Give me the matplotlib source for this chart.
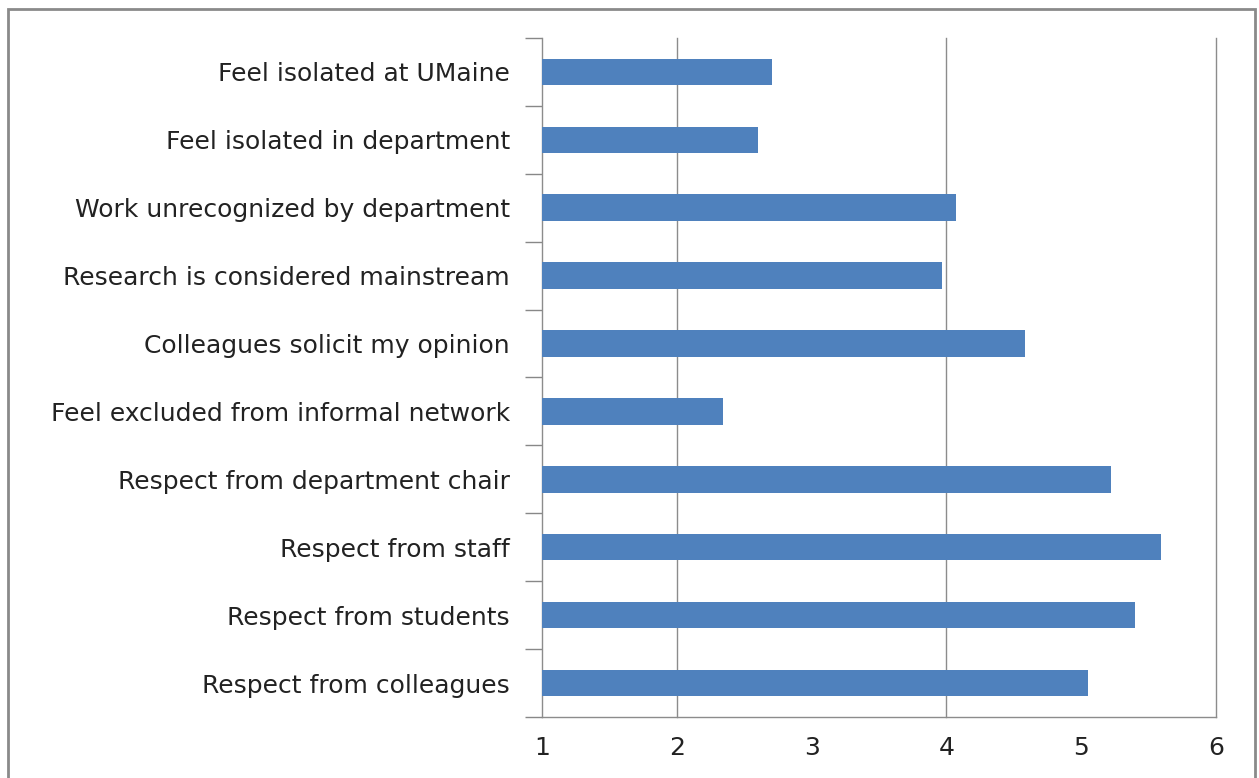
import matplotlib.pyplot as plt
from matplotlib.patches import Rectangle

# data, bottom to top as drawn
labels = ["Respect from colleagues", "Respect from students", "Respect from staff",
          "Respect from department chair", "Feel excluded from informal network",
          "Colleagues solicit my opinion", "Research is considered mainstream",
          "Work unrecognized by department", "Feel isolated in department",
          "Feel isolated at UMaine"]
values = [5.05, 5.40, 5.59, 5.22, 2.34, 4.58, 3.97, 4.07, 2.60, 2.71]
xticks = [1, 2, 3, 4, 5, 6]
gridx = [2, 4, 6]

plt.rcParams['font.family'] = ['DejaVu Sans']

fig = plt.figure(figsize=(12.59, 7.78), dpi=100)
ax = fig.add_axes([0.4305, 0.0784, 0.5353, 0.8728])

pos = list(range(len(labels)))
for g in gridx:
    ax.axvline(g, color="#8c8c8c", linewidth=1, zorder=1, clip_on=False)
ax.barh(pos, [v - 1 for v in values], left=1, height=0.39, color="#4F81BD", zorder=3)

ax.set_xlim(1, 6)
ax.set_ylim(-0.5, len(labels) - 0.5)

ax.set_yticks(pos)
ax.set_yticklabels(labels, fontsize=18, color="#222222")
ax.set_yticks([p - 0.5 for p in range(len(labels) + 1)], minor=True)
ax.tick_params(axis="y", which="major", length=0, pad=23)
ax.tick_params(axis="y", which="minor", length=12, color="#888888", width=1)

ax.set_xticks(xticks)
ax.set_xticklabels([str(t) for t in xticks], fontsize=18, color="#222222")
ax.set_xticks([1] + gridx, minor=True)
ax.tick_params(axis="x", which="major", length=0, pad=14)
ax.tick_params(axis="x", which="minor", length=7, color="#888888", width=1)

for s in ["top", "right"]:
    ax.spines[s].set_visible(False)
for s in ["left", "bottom"]:
    ax.spines[s].set_color("#8c8c8c")
    ax.spines[s].set_linewidth(1)

# outer chart frame
fig.patches.append(Rectangle((0.0064, -0.05), 0.9905, 1.0386, transform=fig.transFigure,
                             fill=False, edgecolor="#8a8a8a", linewidth=2))

fig.savefig("out.png", dpi=100)
